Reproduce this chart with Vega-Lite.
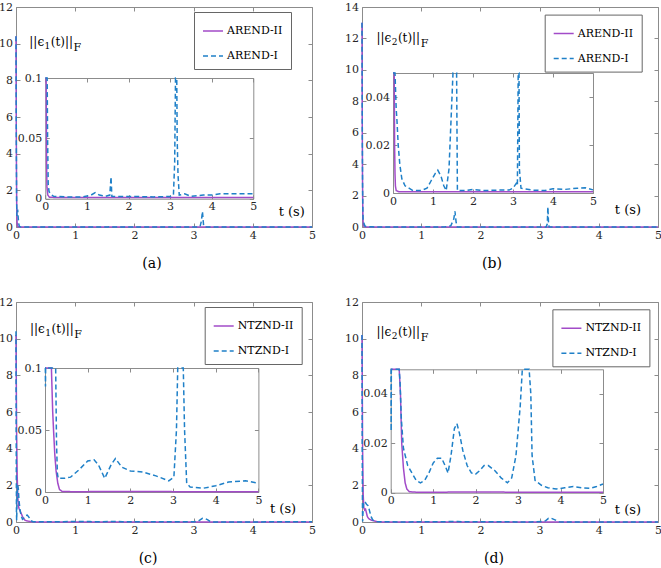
{
"$schema": "https://vega.github.io/schema/vega-lite/v6.json",
"background": "white",
"padding": {"left": -2, "top": 0, "right": 0, "bottom": 0},
"columns": 2,
"spacing": {"row": 75, "column": 50},
"bounds": "flush",
"resolve": {"scale": {"color": "independent", "strokeDash": "independent"}, "legend": {"color": "independent", "strokeDash": "independent"}},
"config": {
 "view": {"stroke": "#8c8c8c", "strokeWidth": 1},
 "font": "DejaVu Serif",
 "axis": {"domain": false, "grid": false, "tickColor": "#8c8c8c", "domainColor": "#8c8c8c", "tickSize": -4, "tickWidth": 1, "labelFont": "DejaVu Serif", "labelFontSize": 11, "labelColor": "#262626", "labelPadding": 6, "labelFlush": false, "labelOverlap": false},
 "axisY": {"labelPadding": 7.5},
 "legend": {"symbolType": "stroke", "symbolSize": 400, "symbolStrokeWidth": 1.5, "labelFont": "DejaVu Serif", "labelFontSize": 11, "labelColor": "#000", "strokeColor": "#666", "fillColor": "#fff", "padding": 8, "rowPadding": 9, "labelOffset": 3},
 "text": {"font": "DejaVu Serif"},
 "title": {"font": "DejaVu Serif", "fontSize": 14, "fontWeight": "normal", "color": "#000"}
},
"datasets": {
 "a": [
  {"s":"AREND-II","t":0,"v":10.4},{"s":"AREND-II","t":0.004,"v":6},{"s":"AREND-II","t":0.008,"v":3},{"s":"AREND-II","t":0.012,"v":1.2},{"s":"AREND-II","t":0.016,"v":0.45},{"s":"AREND-II","t":0.02,"v":0.18},{"s":"AREND-II","t":0.025,"v":0.07},{"s":"AREND-II","t":0.03,"v":0.03},{"s":"AREND-II","t":0.04,"v":0.01},{"s":"AREND-II","t":0.06,"v":0.003},{"s":"AREND-II","t":0.1,"v":0.0012},{"s":"AREND-II","t":0.3,"v":0.001},{"s":"AREND-II","t":1,"v":0.001},{"s":"AREND-II","t":2,"v":0.001},{"s":"AREND-II","t":3,"v":0.001},{"s":"AREND-II","t":4,"v":0.001},{"s":"AREND-II","t":5,"v":0.001},
  {"s":"AREND-I","t":0,"v":10.4},{"s":"AREND-I","t":0.005,"v":5},{"s":"AREND-I","t":0.01,"v":1.5},{"s":"AREND-I","t":0.015,"v":0.6},{"s":"AREND-I","t":0.02,"v":0.85},{"s":"AREND-I","t":0.028,"v":0.95},{"s":"AREND-I","t":0.035,"v":0.6},{"s":"AREND-I","t":0.045,"v":0.2},{"s":"AREND-I","t":0.055,"v":0.05},{"s":"AREND-I","t":0.07,"v":0.012},{"s":"AREND-I","t":0.09,"v":0.006},{"s":"AREND-I","t":0.12,"v":0.004},{"s":"AREND-I","t":0.2,"v":0.002},{"s":"AREND-I","t":0.5,"v":0.0015},{"s":"AREND-I","t":0.9,"v":0.0015},{"s":"AREND-I","t":1.1,"v":0.003},{"s":"AREND-I","t":1.2,"v":0.005},{"s":"AREND-I","t":1.3,"v":0.003},{"s":"AREND-I","t":1.45,"v":0.002},{"s":"AREND-I","t":1.55,"v":0.003},{"s":"AREND-I","t":1.58,"v":0.018},{"s":"AREND-I","t":1.6,"v":0.002},{"s":"AREND-I","t":1.8,"v":0.0018},{"s":"AREND-I","t":2.2,"v":0.0018},{"s":"AREND-I","t":2.6,"v":0.0015},{"s":"AREND-I","t":3.0,"v":0.0018},{"s":"AREND-I","t":3.08,"v":0.003},{"s":"AREND-I","t":3.11,"v":0.03},{"s":"AREND-I","t":3.13,"v":0.3},{"s":"AREND-I","t":3.15,"v":0.85},{"s":"AREND-I","t":3.16,"v":0.4},{"s":"AREND-I","t":3.17,"v":0.05},{"s":"AREND-I","t":3.19,"v":0.02},{"s":"AREND-I","t":3.22,"v":0.003},{"s":"AREND-I","t":3.35,"v":0.004},{"s":"AREND-I","t":3.5,"v":0.002},{"s":"AREND-I","t":3.8,"v":0.003},{"s":"AREND-I","t":4.0,"v":0.003},{"s":"AREND-I","t":4.2,"v":0.004},{"s":"AREND-I","t":4.5,"v":0.004},{"s":"AREND-I","t":4.8,"v":0.004},{"s":"AREND-I","t":5,"v":0.004}
 ],
 "b": [
  {"s":"AREND-II","t":0,"v":13},{"s":"AREND-II","t":0.004,"v":7},{"s":"AREND-II","t":0.008,"v":3.5},{"s":"AREND-II","t":0.012,"v":1.5},{"s":"AREND-II","t":0.016,"v":0.6},{"s":"AREND-II","t":0.02,"v":0.25},{"s":"AREND-II","t":0.025,"v":0.1},{"s":"AREND-II","t":0.03,"v":0.05},{"s":"AREND-II","t":0.04,"v":0.02},{"s":"AREND-II","t":0.05,"v":0.008},{"s":"AREND-II","t":0.06,"v":0.003},{"s":"AREND-II","t":0.08,"v":0.001},{"s":"AREND-II","t":0.15,"v":0.0005},{"s":"AREND-II","t":1,"v":0.0005},{"s":"AREND-II","t":2,"v":0.0005},{"s":"AREND-II","t":3,"v":0.0005},{"s":"AREND-II","t":4,"v":0.0005},{"s":"AREND-II","t":5,"v":0.0005},
  {"s":"AREND-I","t":0,"v":13},{"s":"AREND-I","t":0.005,"v":6},{"s":"AREND-I","t":0.01,"v":2.5},{"s":"AREND-I","t":0.015,"v":0.9},{"s":"AREND-I","t":0.02,"v":0.4},{"s":"AREND-I","t":0.03,"v":0.3},{"s":"AREND-I","t":0.04,"v":0.15},{"s":"AREND-I","t":0.05,"v":0.07},{"s":"AREND-I","t":0.06,"v":0.045},{"s":"AREND-I","t":0.08,"v":0.035},{"s":"AREND-I","t":0.1,"v":0.03},{"s":"AREND-I","t":0.13,"v":0.02},{"s":"AREND-I","t":0.17,"v":0.012},{"s":"AREND-I","t":0.22,"v":0.006},{"s":"AREND-I","t":0.3,"v":0.003},{"s":"AREND-I","t":0.4,"v":0.002},{"s":"AREND-I","t":0.5,"v":0.001},{"s":"AREND-I","t":0.7,"v":0.001},{"s":"AREND-I","t":0.85,"v":0.002},{"s":"AREND-I","t":0.95,"v":0.005},{"s":"AREND-I","t":1.05,"v":0.008},{"s":"AREND-I","t":1.12,"v":0.0095},{"s":"AREND-I","t":1.2,"v":0.007},{"s":"AREND-I","t":1.27,"v":0.003},{"s":"AREND-I","t":1.33,"v":0.001},{"s":"AREND-I","t":1.4,"v":0.01},{"s":"AREND-I","t":1.45,"v":0.03},{"s":"AREND-I","t":1.5,"v":0.08},{"s":"AREND-I","t":1.55,"v":0.5},{"s":"AREND-I","t":1.57,"v":1.0},{"s":"AREND-I","t":1.59,"v":0.3},{"s":"AREND-I","t":1.61,"v":0.001},{"s":"AREND-I","t":1.8,"v":0.001},{"s":"AREND-I","t":2.0,"v":0.0015},{"s":"AREND-I","t":2.3,"v":0.001},{"s":"AREND-I","t":2.6,"v":0.0012},{"s":"AREND-I","t":2.9,"v":0.0012},{"s":"AREND-I","t":3.0,"v":0.002},{"s":"AREND-I","t":3.08,"v":0.004},{"s":"AREND-I","t":3.11,"v":0.003},{"s":"AREND-I","t":3.13,"v":0.2},{"s":"AREND-I","t":3.14,"v":1.27},{"s":"AREND-I","t":3.15,"v":0.3},{"s":"AREND-I","t":3.16,"v":0.01},{"s":"AREND-I","t":3.2,"v":0.002},{"s":"AREND-I","t":3.5,"v":0.0012},{"s":"AREND-I","t":3.8,"v":0.001},{"s":"AREND-I","t":4.0,"v":0.0018},{"s":"AREND-I","t":4.3,"v":0.0015},{"s":"AREND-I","t":4.6,"v":0.002},{"s":"AREND-I","t":4.8,"v":0.0022},{"s":"AREND-I","t":5,"v":0.0013}
 ],
 "c": [
  {"s":"NTZND-II","t":0,"v":10.2},{"s":"NTZND-II","t":0.01,"v":5},{"s":"NTZND-II","t":0.02,"v":2.5},{"s":"NTZND-II","t":0.03,"v":1.4},{"s":"NTZND-II","t":0.04,"v":0.9},{"s":"NTZND-II","t":0.05,"v":0.75},{"s":"NTZND-II","t":0.07,"v":0.6},{"s":"NTZND-II","t":0.09,"v":0.45},{"s":"NTZND-II","t":0.11,"v":0.3},{"s":"NTZND-II","t":0.13,"v":0.18},{"s":"NTZND-II","t":0.15,"v":0.1},{"s":"NTZND-II","t":0.18,"v":0.065},{"s":"NTZND-II","t":0.2,"v":0.05},{"s":"NTZND-II","t":0.23,"v":0.03},{"s":"NTZND-II","t":0.26,"v":0.017},{"s":"NTZND-II","t":0.3,"v":0.007},{"s":"NTZND-II","t":0.34,"v":0.002},{"s":"NTZND-II","t":0.4,"v":0.0005},{"s":"NTZND-II","t":0.6,"v":0.0003},{"s":"NTZND-II","t":1,"v":0.0003},{"s":"NTZND-II","t":2,"v":0.0004},{"s":"NTZND-II","t":3,"v":0.0003},{"s":"NTZND-II","t":4,"v":0.0003},{"s":"NTZND-II","t":5,"v":0.0003},
  {"s":"NTZND-I","t":0,"v":10.4},{"s":"NTZND-I","t":0.004,"v":4},{"s":"NTZND-I","t":0.008,"v":0.5},{"s":"NTZND-I","t":0.011,"v":0.085},{"s":"NTZND-I","t":0.015,"v":0.6},{"s":"NTZND-I","t":0.02,"v":1.5},{"s":"NTZND-I","t":0.03,"v":2.0},{"s":"NTZND-I","t":0.04,"v":1.8},{"s":"NTZND-I","t":0.05,"v":1.2},{"s":"NTZND-I","t":0.07,"v":0.6},{"s":"NTZND-I","t":0.09,"v":0.3},{"s":"NTZND-I","t":0.11,"v":0.15},{"s":"NTZND-I","t":0.13,"v":0.2},{"s":"NTZND-I","t":0.16,"v":0.35},{"s":"NTZND-I","t":0.19,"v":0.38},{"s":"NTZND-I","t":0.22,"v":0.25},{"s":"NTZND-I","t":0.25,"v":0.12},{"s":"NTZND-I","t":0.27,"v":0.04},{"s":"NTZND-I","t":0.29,"v":0.015},{"s":"NTZND-I","t":0.31,"v":0.011},{"s":"NTZND-I","t":0.45,"v":0.011},{"s":"NTZND-I","t":0.6,"v":0.012},{"s":"NTZND-I","t":0.8,"v":0.018},{"s":"NTZND-I","t":1.0,"v":0.025},{"s":"NTZND-I","t":1.15,"v":0.026},{"s":"NTZND-I","t":1.25,"v":0.022},{"s":"NTZND-I","t":1.4,"v":0.011},{"s":"NTZND-I","t":1.55,"v":0.022},{"s":"NTZND-I","t":1.65,"v":0.027},{"s":"NTZND-I","t":1.8,"v":0.02},{"s":"NTZND-I","t":2.0,"v":0.017},{"s":"NTZND-I","t":2.3,"v":0.016},{"s":"NTZND-I","t":2.6,"v":0.013},{"s":"NTZND-I","t":2.9,"v":0.009},{"s":"NTZND-I","t":3.02,"v":0.012},{"s":"NTZND-I","t":3.08,"v":0.05},{"s":"NTZND-I","t":3.11,"v":0.12},{"s":"NTZND-I","t":3.15,"v":0.2},{"s":"NTZND-I","t":3.2,"v":0.18},{"s":"NTZND-I","t":3.24,"v":0.12},{"s":"NTZND-I","t":3.27,"v":0.05},{"s":"NTZND-I","t":3.32,"v":0.007},{"s":"NTZND-I","t":3.4,"v":0.004},{"s":"NTZND-I","t":3.7,"v":0.003},{"s":"NTZND-I","t":4.0,"v":0.005},{"s":"NTZND-I","t":4.3,"v":0.008},{"s":"NTZND-I","t":4.7,"v":0.009},{"s":"NTZND-I","t":5,"v":0.007}
 ],
 "d": [
  {"s":"NTZND-II","t":0,"v":10.2},{"s":"NTZND-II","t":0.01,"v":4},{"s":"NTZND-II","t":0.02,"v":1.5},{"s":"NTZND-II","t":0.03,"v":0.8},{"s":"NTZND-II","t":0.045,"v":0.65},{"s":"NTZND-II","t":0.06,"v":0.7},{"s":"NTZND-II","t":0.075,"v":0.5},{"s":"NTZND-II","t":0.09,"v":0.3},{"s":"NTZND-II","t":0.11,"v":0.2},{"s":"NTZND-II","t":0.13,"v":0.15},{"s":"NTZND-II","t":0.16,"v":0.1},{"s":"NTZND-II","t":0.2,"v":0.07},{"s":"NTZND-II","t":0.23,"v":0.04},{"s":"NTZND-II","t":0.26,"v":0.02},{"s":"NTZND-II","t":0.3,"v":0.01},{"s":"NTZND-II","t":0.34,"v":0.004},{"s":"NTZND-II","t":0.38,"v":0.0015},{"s":"NTZND-II","t":0.44,"v":0.0004},{"s":"NTZND-II","t":0.6,"v":0.0002},{"s":"NTZND-II","t":1,"v":0.0002},{"s":"NTZND-II","t":2,"v":0.0003},{"s":"NTZND-II","t":3,"v":0.0002},{"s":"NTZND-II","t":4,"v":0.0002},{"s":"NTZND-II","t":5,"v":0.0002},
  {"s":"NTZND-I","t":0,"v":10.2},{"s":"NTZND-I","t":0.004,"v":4},{"s":"NTZND-I","t":0.008,"v":0.8},{"s":"NTZND-I","t":0.011,"v":0.025},{"s":"NTZND-I","t":0.015,"v":0.4},{"s":"NTZND-I","t":0.025,"v":1.0},{"s":"NTZND-I","t":0.04,"v":1.13},{"s":"NTZND-I","t":0.06,"v":1.05},{"s":"NTZND-I","t":0.08,"v":0.95},{"s":"NTZND-I","t":0.1,"v":0.9},{"s":"NTZND-I","t":0.12,"v":0.7},{"s":"NTZND-I","t":0.14,"v":0.45},{"s":"NTZND-I","t":0.16,"v":0.25},{"s":"NTZND-I","t":0.18,"v":0.12},{"s":"NTZND-I","t":0.2,"v":0.07},{"s":"NTZND-I","t":0.22,"v":0.045},{"s":"NTZND-I","t":0.25,"v":0.03},{"s":"NTZND-I","t":0.3,"v":0.018},{"s":"NTZND-I","t":0.4,"v":0.011},{"s":"NTZND-I","t":0.5,"v":0.008},{"s":"NTZND-I","t":0.6,"v":0.005},{"s":"NTZND-I","t":0.7,"v":0.004},{"s":"NTZND-I","t":0.8,"v":0.005},{"s":"NTZND-I","t":0.9,"v":0.008},{"s":"NTZND-I","t":1.0,"v":0.012},{"s":"NTZND-I","t":1.1,"v":0.014},{"s":"NTZND-I","t":1.2,"v":0.014},{"s":"NTZND-I","t":1.28,"v":0.011},{"s":"NTZND-I","t":1.35,"v":0.008},{"s":"NTZND-I","t":1.42,"v":0.015},{"s":"NTZND-I","t":1.5,"v":0.026},{"s":"NTZND-I","t":1.56,"v":0.028},{"s":"NTZND-I","t":1.62,"v":0.024},{"s":"NTZND-I","t":1.7,"v":0.017},{"s":"NTZND-I","t":1.8,"v":0.011},{"s":"NTZND-I","t":1.9,"v":0.008},{"s":"NTZND-I","t":2.0,"v":0.0075},{"s":"NTZND-I","t":2.1,"v":0.009},{"s":"NTZND-I","t":2.2,"v":0.011},{"s":"NTZND-I","t":2.3,"v":0.011},{"s":"NTZND-I","t":2.45,"v":0.009},{"s":"NTZND-I","t":2.6,"v":0.006},{"s":"NTZND-I","t":2.75,"v":0.004},{"s":"NTZND-I","t":2.85,"v":0.006},{"s":"NTZND-I","t":2.95,"v":0.015},{"s":"NTZND-I","t":3.05,"v":0.035},{"s":"NTZND-I","t":3.1,"v":0.06},{"s":"NTZND-I","t":3.15,"v":0.2},{"s":"NTZND-I","t":3.2,"v":0.2},{"s":"NTZND-I","t":3.26,"v":0.12},{"s":"NTZND-I","t":3.3,"v":0.04},{"s":"NTZND-I","t":3.33,"v":0.015},{"s":"NTZND-I","t":3.4,"v":0.005},{"s":"NTZND-I","t":3.55,"v":0.003},{"s":"NTZND-I","t":3.7,"v":0.002},{"s":"NTZND-I","t":3.9,"v":0.0015},{"s":"NTZND-I","t":4.1,"v":0.002},{"s":"NTZND-I","t":4.3,"v":0.0025},{"s":"NTZND-I","t":4.5,"v":0.002},{"s":"NTZND-I","t":4.7,"v":0.0018},{"s":"NTZND-I","t":4.85,"v":0.0025},{"s":"NTZND-I","t":5,"v":0.0035}
 ]
},
"concat": [
 {
  "width": 296, "height": 220,
  "title": {"text": "(a)", "orient": "bottom", "frame": "group", "anchor": "middle", "dx": -12, "offset": 17},
  "layer": [
   {
    "layer": [
     {
      "data": {"name": "a"},
      "mark": {"type": "line", "strokeWidth": 1.5},
      "encoding": {
       "x": {"field": "t", "type": "quantitative", "scale": {"domain": [0, 5], "nice": false, "zero": false}, "axis": {"orient": "bottom", "values": [0,1,2,3,4,5], "title": null}},
       "y": {"field": "v", "type": "quantitative", "scale": {"domain": [0, 12], "nice": false}, "axis": {"orient": "left", "values": [0,2,4,6,8,10,12], "title": null}},
       "color": {"field": "s", "type": "nominal", "scale": {"domain": ["AREND-II", "AREND-I"], "range": ["#A24BC8", "#1F80C8"]}, "legend": {"orient": "none", "legendX": 178, "legendY": 5, "title": null}},
       "strokeDash": {"field": "s", "type": "nominal", "scale": {"domain": ["AREND-II", "AREND-I"], "range": [[1, 0], [5, 3]]}, "legend": {"orient": "none", "legendX": 178, "legendY": 5, "title": null}}
      }
     },
     {
      "data": {"values": [{"t": 0, "v": 0}]},
      "mark": {"type": "point", "opacity": 0},
      "encoding": {
       "x": {"field": "t", "type": "quantitative", "axis": {"orient": "top", "values": [0,1,2,3,4,5], "labels": false, "title": null}},
       "y": {"field": "v", "type": "quantitative", "axis": {"orient": "right", "values": [0,2,4,6,8,10,12], "labels": false, "title": null}}
      }
     },
     {
      "data": {"values": [{"t": 0.225, "v": 9.87, "txt": "||ϵ"}, {"t": 0.588, "v": 9.87, "txt": "(t)||"}]},
      "mark": {"type": "text", "align": "left", "baseline": "alphabetic", "fontSize": 12, "color": "#000"},
      "encoding": {"x": {"field": "t", "type": "quantitative", "axis": null}, "y": {"field": "v", "type": "quantitative", "axis": null}, "text": {"field": "txt"}}
     },
     {
      "data": {"values": [{"t": 4.437, "v": 0.6, "txt": "t (s)"}]},
      "mark": {"type": "text", "align": "left", "baseline": "alphabetic", "fontSize": 13, "color": "#000"},
      "encoding": {"x": {"field": "t", "type": "quantitative", "axis": null}, "y": {"field": "v", "type": "quantitative", "axis": null}, "text": {"field": "txt"}}
     },
     {
      "data": {"values": [{"t": 0.483, "v": 9.87, "txt": "1"}]},
      "mark": {"type": "text", "align": "left", "baseline": "alphabetic", "fontSize": 9, "dy": 3, "color": "#000"},
      "encoding": {"x": {"field": "t", "type": "quantitative", "axis": null}, "y": {"field": "v", "type": "quantitative", "axis": null}, "text": {"field": "txt"}}
     },
     {
      "data": {"values": [{"t": 0.973, "v": 9.87, "txt": "F"}]},
      "mark": {"type": "text", "align": "left", "baseline": "alphabetic", "fontSize": 11, "dy": 5, "color": "#000"},
      "encoding": {"x": {"field": "t", "type": "quantitative", "axis": null}, "y": {"field": "v", "type": "quantitative", "axis": null}, "text": {"field": "txt"}}
     }
    ],
    "resolve": {"axis": {"x": "independent", "y": "independent"}}
   },
   {
    "layer": [
     {
      "data": {"name": "a"},
      "mark": {"type": "line", "strokeWidth": 1.5},
      "encoding": {
       "x": {"field": "t", "type": "quantitative", "scale": {"domain": [0, 5], "range": [29.3, 237.3], "nice": false, "zero": false, "clamp": true}, "axis": {"orient": "bottom", "offset": -28.3, "values": [0,1,2,3,4,5], "domain": true, "title": null}},
       "y": {"field": "v", "type": "quantitative", "scale": {"domain": [0, 0.1], "range": [191.7, 71], "nice": false, "clamp": true}, "axis": {"orient": "left", "offset": -29.3, "values": [0, 0.05, 0.1], "format": "~g", "domain": true, "title": null}},
       "color": {"field": "s", "type": "nominal", "legend": null},
       "strokeDash": {"field": "s", "type": "nominal", "legend": null}
      }
     },
     {
      "data": {"values": [{"t": 0, "v": 0}]},
      "mark": {"type": "point", "opacity": 0},
      "encoding": {
       "x": {"field": "t", "type": "quantitative", "axis": {"orient": "top", "offset": -71, "values": [0,1,2,3,4,5], "labels": false, "domain": true, "title": null}},
       "y": {"field": "v", "type": "quantitative", "axis": {"orient": "right", "offset": -58.7, "values": [0, 0.05, 0.1], "labels": false, "domain": true, "title": null}}
      }
     }
    ],
    "resolve": {"axis": {"x": "independent", "y": "independent"}}
   }
  ],
  "resolve": {"scale": {"x": "independent", "y": "independent"}}
 },
 {
  "width": 296, "height": 220,
  "title": {"text": "(b)", "orient": "bottom", "frame": "group", "anchor": "middle", "dx": -18, "offset": 17},
  "layer": [
   {
    "layer": [
     {
      "data": {"name": "b"},
      "mark": {"type": "line", "strokeWidth": 1.5},
      "encoding": {
       "x": {"field": "t", "type": "quantitative", "scale": {"domain": [0, 5], "nice": false, "zero": false}, "axis": {"orient": "bottom", "values": [0,1,2,3,4,5], "title": null}},
       "y": {"field": "v", "type": "quantitative", "scale": {"domain": [0, 14], "nice": false}, "axis": {"orient": "left", "values": [0,2,4,6,8,10,12,14], "title": null}},
       "color": {"field": "s", "type": "nominal", "scale": {"domain": ["AREND-II", "AREND-I"], "range": ["#A24BC8", "#1F80C8"]}, "legend": {"orient": "none", "legendX": 182.7, "legendY": 7.6, "title": null}},
       "strokeDash": {"field": "s", "type": "nominal", "scale": {"domain": ["AREND-II", "AREND-I"], "range": [[1, 0], [5, 3]]}, "legend": {"orient": "none", "legendX": 182.7, "legendY": 7.6, "title": null}}
      }
     },
     {
      "data": {"values": [{"t": 0, "v": 0}]},
      "mark": {"type": "point", "opacity": 0},
      "encoding": {
       "x": {"field": "t", "type": "quantitative", "axis": {"orient": "top", "values": [0,1,2,3,4,5], "labels": false, "title": null}},
       "y": {"field": "v", "type": "quantitative", "axis": {"orient": "right", "values": [0,2,4,6,8,10,12,14], "labels": false, "title": null}}
      }
     },
     {
      "data": {"values": [{"t": 0.243, "v": 11.75, "txt": "||ϵ"}, {"t": 0.606, "v": 11.75, "txt": "(t)||"}]},
      "mark": {"type": "text", "align": "left", "baseline": "alphabetic", "fontSize": 12, "color": "#000"},
      "encoding": {"x": {"field": "t", "type": "quantitative", "axis": null}, "y": {"field": "v", "type": "quantitative", "axis": null}, "text": {"field": "txt"}}
     },
     {
      "data": {"values": [{"t": 4.27, "v": 0.84, "txt": "t (s)"}]},
      "mark": {"type": "text", "align": "left", "baseline": "alphabetic", "fontSize": 13, "color": "#000"},
      "encoding": {"x": {"field": "t", "type": "quantitative", "axis": null}, "y": {"field": "v", "type": "quantitative", "axis": null}, "text": {"field": "txt"}}
     },
     {
      "data": {"values": [{"t": 0.501, "v": 11.75, "txt": "2"}]},
      "mark": {"type": "text", "align": "left", "baseline": "alphabetic", "fontSize": 9, "dy": 3, "color": "#000"},
      "encoding": {"x": {"field": "t", "type": "quantitative", "axis": null}, "y": {"field": "v", "type": "quantitative", "axis": null}, "text": {"field": "txt"}}
     },
     {
      "data": {"values": [{"t": 0.991, "v": 11.75, "txt": "F"}]},
      "mark": {"type": "text", "align": "left", "baseline": "alphabetic", "fontSize": 11, "dy": 5, "color": "#000"},
      "encoding": {"x": {"field": "t", "type": "quantitative", "axis": null}, "y": {"field": "v", "type": "quantitative", "axis": null}, "text": {"field": "txt"}}
     }
    ],
    "resolve": {"axis": {"x": "independent", "y": "independent"}}
   },
   {
    "layer": [
     {
      "data": {"name": "b"},
      "mark": {"type": "line", "strokeWidth": 1.5},
      "encoding": {
       "x": {"field": "t", "type": "quantitative", "scale": {"domain": [0, 5], "range": [31, 231], "nice": false, "zero": false, "clamp": true}, "axis": {"orient": "bottom", "offset": -34, "values": [0,1,2,3,4,5], "domain": true, "title": null}},
       "y": {"field": "v", "type": "quantitative", "scale": {"domain": [0, 0.05], "range": [186, 66], "nice": false, "clamp": true}, "axis": {"orient": "left", "offset": -31, "values": [0, 0.02, 0.04], "format": "~g", "domain": true, "title": null}},
       "color": {"field": "s", "type": "nominal", "legend": null},
       "strokeDash": {"field": "s", "type": "nominal", "legend": null}
      }
     },
     {
      "data": {"values": [{"t": 0, "v": 0}]},
      "mark": {"type": "point", "opacity": 0},
      "encoding": {
       "x": {"field": "t", "type": "quantitative", "axis": {"orient": "top", "offset": -66, "values": [0,1,2,3,4,5], "labels": false, "domain": true, "title": null}},
       "y": {"field": "v", "type": "quantitative", "axis": {"orient": "right", "offset": -65, "values": [0, 0.02, 0.04], "labels": false, "domain": true, "title": null}}
      }
     }
    ],
    "resolve": {"axis": {"x": "independent", "y": "independent"}}
   }
  ],
  "resolve": {"scale": {"x": "independent", "y": "independent"}}
 },
 {
  "width": 296, "height": 220,
  "title": {"text": "(c)", "orient": "bottom", "frame": "group", "anchor": "middle", "dx": -16, "offset": 17},
  "layer": [
   {
    "layer": [
     {
      "data": {"name": "c"},
      "mark": {"type": "line", "strokeWidth": 1.5},
      "encoding": {
       "x": {"field": "t", "type": "quantitative", "scale": {"domain": [0, 5], "nice": false, "zero": false}, "axis": {"orient": "bottom", "values": [0,1,2,3,4,5], "title": null}},
       "y": {"field": "v", "type": "quantitative", "scale": {"domain": [0, 12], "nice": false}, "axis": {"orient": "left", "values": [0,2,4,6,8,10,12], "title": null}},
       "color": {"field": "s", "type": "nominal", "scale": {"domain": ["NTZND-II", "NTZND-I"], "range": ["#A24BC8", "#1F80C8"]}, "legend": {"orient": "none", "legendX": 188.7, "legendY": 5, "title": null}},
       "strokeDash": {"field": "s", "type": "nominal", "scale": {"domain": ["NTZND-II", "NTZND-I"], "range": [[1, 0], [5, 3]]}, "legend": {"orient": "none", "legendX": 188.7, "legendY": 5, "title": null}}
      }
     },
     {
      "data": {"values": [{"t": 0, "v": 0}]},
      "mark": {"type": "point", "opacity": 0},
      "encoding": {
       "x": {"field": "t", "type": "quantitative", "axis": {"orient": "top", "values": [0,1,2,3,4,5], "labels": false, "title": null}},
       "y": {"field": "v", "type": "quantitative", "axis": {"orient": "right", "values": [0,2,4,6,8,10,12], "labels": false, "title": null}}
      }
     },
     {
      "data": {"values": [{"t": 0.236, "v": 10.32, "txt": "||ϵ"}, {"t": 0.599, "v": 10.32, "txt": "(t)||"}]},
      "mark": {"type": "text", "align": "left", "baseline": "alphabetic", "fontSize": 12, "color": "#000"},
      "encoding": {"x": {"field": "t", "type": "quantitative", "axis": null}, "y": {"field": "v", "type": "quantitative", "axis": null}, "text": {"field": "txt"}}
     },
     {
      "data": {"values": [{"t": 4.29, "v": 0.5, "txt": "t (s)"}]},
      "mark": {"type": "text", "align": "left", "baseline": "alphabetic", "fontSize": 13, "color": "#000"},
      "encoding": {"x": {"field": "t", "type": "quantitative", "axis": null}, "y": {"field": "v", "type": "quantitative", "axis": null}, "text": {"field": "txt"}}
     },
     {
      "data": {"values": [{"t": 0.494, "v": 10.32, "txt": "1"}]},
      "mark": {"type": "text", "align": "left", "baseline": "alphabetic", "fontSize": 9, "dy": 3, "color": "#000"},
      "encoding": {"x": {"field": "t", "type": "quantitative", "axis": null}, "y": {"field": "v", "type": "quantitative", "axis": null}, "text": {"field": "txt"}}
     },
     {
      "data": {"values": [{"t": 0.984, "v": 10.32, "txt": "F"}]},
      "mark": {"type": "text", "align": "left", "baseline": "alphabetic", "fontSize": 11, "dy": 5, "color": "#000"},
      "encoding": {"x": {"field": "t", "type": "quantitative", "axis": null}, "y": {"field": "v", "type": "quantitative", "axis": null}, "text": {"field": "txt"}}
     }
    ],
    "resolve": {"axis": {"x": "independent", "y": "independent"}}
   },
   {
    "layer": [
     {
      "data": {"name": "c"},
      "mark": {"type": "line", "strokeWidth": 1.5},
      "encoding": {
       "x": {"field": "t", "type": "quantitative", "scale": {"domain": [0, 5], "range": [29, 242.4], "nice": false, "zero": false, "clamp": true}, "axis": {"orient": "bottom", "offset": -30, "values": [0,1,2,3,4,5], "domain": true, "title": null}},
       "y": {"field": "v", "type": "quantitative", "scale": {"domain": [0, 0.1], "range": [190, 66], "nice": false, "clamp": true}, "axis": {"orient": "left", "offset": -29, "values": [0, 0.05, 0.1], "format": "~g", "domain": true, "title": null}},
       "color": {"field": "s", "type": "nominal", "legend": null},
       "strokeDash": {"field": "s", "type": "nominal", "legend": null}
      }
     },
     {
      "data": {"values": [{"t": 0, "v": 0}]},
      "mark": {"type": "point", "opacity": 0},
      "encoding": {
       "x": {"field": "t", "type": "quantitative", "axis": {"orient": "top", "offset": -66, "values": [0,1,2,3,4,5], "labels": false, "domain": true, "title": null}},
       "y": {"field": "v", "type": "quantitative", "axis": {"orient": "right", "offset": -53.6, "values": [0, 0.05, 0.1], "labels": false, "domain": true, "title": null}}
      }
     }
    ],
    "resolve": {"axis": {"x": "independent", "y": "independent"}}
   }
  ],
  "resolve": {"scale": {"x": "independent", "y": "independent"}}
 },
 {
  "width": 296, "height": 220,
  "title": {"text": "(d)", "orient": "bottom", "frame": "group", "anchor": "middle", "dx": -16, "offset": 17},
  "layer": [
   {
    "layer": [
     {
      "data": {"name": "d"},
      "mark": {"type": "line", "strokeWidth": 1.5},
      "encoding": {
       "x": {"field": "t", "type": "quantitative", "scale": {"domain": [0, 5], "nice": false, "zero": false}, "axis": {"orient": "bottom", "values": [0,1,2,3,4,5], "title": null}},
       "y": {"field": "v", "type": "quantitative", "scale": {"domain": [0, 12], "nice": false}, "axis": {"orient": "left", "values": [0,2,4,6,8,10,12], "title": null}},
       "color": {"field": "s", "type": "nominal", "scale": {"domain": ["NTZND-II", "NTZND-I"], "range": ["#A24BC8", "#1F80C8"]}, "legend": {"orient": "none", "legendX": 190.4, "legendY": 7.3, "title": null}},
       "strokeDash": {"field": "s", "type": "nominal", "scale": {"domain": ["NTZND-II", "NTZND-I"], "range": [[1, 0], [5, 3]]}, "legend": {"orient": "none", "legendX": 190.4, "legendY": 7.3, "title": null}}
      }
     },
     {
      "data": {"values": [{"t": 0, "v": 0}]},
      "mark": {"type": "point", "opacity": 0},
      "encoding": {
       "x": {"field": "t", "type": "quantitative", "axis": {"orient": "top", "values": [0,1,2,3,4,5], "labels": false, "title": null}},
       "y": {"field": "v", "type": "quantitative", "axis": {"orient": "right", "values": [0,2,4,6,8,10,12], "labels": false, "title": null}}
      }
     },
     {
      "data": {"values": [{"t": 0.243, "v": 10.15, "txt": "||ϵ"}, {"t": 0.606, "v": 10.15, "txt": "(t)||"}]},
      "mark": {"type": "text", "align": "left", "baseline": "alphabetic", "fontSize": 12, "color": "#000"},
      "encoding": {"x": {"field": "t", "type": "quantitative", "axis": null}, "y": {"field": "v", "type": "quantitative", "axis": null}, "text": {"field": "txt"}}
     },
     {
      "data": {"values": [{"t": 4.27, "v": 0.46, "txt": "t (s)"}]},
      "mark": {"type": "text", "align": "left", "baseline": "alphabetic", "fontSize": 13, "color": "#000"},
      "encoding": {"x": {"field": "t", "type": "quantitative", "axis": null}, "y": {"field": "v", "type": "quantitative", "axis": null}, "text": {"field": "txt"}}
     },
     {
      "data": {"values": [{"t": 0.501, "v": 10.15, "txt": "2"}]},
      "mark": {"type": "text", "align": "left", "baseline": "alphabetic", "fontSize": 9, "dy": 3, "color": "#000"},
      "encoding": {"x": {"field": "t", "type": "quantitative", "axis": null}, "y": {"field": "v", "type": "quantitative", "axis": null}, "text": {"field": "txt"}}
     },
     {
      "data": {"values": [{"t": 0.991, "v": 10.15, "txt": "F"}]},
      "mark": {"type": "text", "align": "left", "baseline": "alphabetic", "fontSize": 11, "dy": 5, "color": "#000"},
      "encoding": {"x": {"field": "t", "type": "quantitative", "axis": null}, "y": {"field": "v", "type": "quantitative", "axis": null}, "text": {"field": "txt"}}
     }
    ],
    "resolve": {"axis": {"x": "independent", "y": "independent"}}
   },
   {
    "layer": [
     {
      "data": {"name": "d"},
      "mark": {"type": "line", "strokeWidth": 1.5},
      "encoding": {
       "x": {"field": "t", "type": "quantitative", "scale": {"domain": [0, 5], "range": [28.7, 241], "nice": false, "zero": false, "clamp": true}, "axis": {"orient": "bottom", "offset": -29.3, "values": [0,1,2,3,4,5], "domain": true, "title": null}},
       "y": {"field": "v", "type": "quantitative", "scale": {"domain": [0, 0.05], "range": [190.7, 67.3], "nice": false, "clamp": true}, "axis": {"orient": "left", "offset": -28.7, "values": [0, 0.02, 0.04], "format": "~g", "domain": true, "title": null}},
       "color": {"field": "s", "type": "nominal", "legend": null},
       "strokeDash": {"field": "s", "type": "nominal", "legend": null}
      }
     },
     {
      "data": {"values": [{"t": 0, "v": 0}]},
      "mark": {"type": "point", "opacity": 0},
      "encoding": {
       "x": {"field": "t", "type": "quantitative", "axis": {"orient": "top", "offset": -67.3, "values": [0,1,2,3,4,5], "labels": false, "domain": true, "title": null}},
       "y": {"field": "v", "type": "quantitative", "axis": {"orient": "right", "offset": -55, "values": [0, 0.02, 0.04], "labels": false, "domain": true, "title": null}}
      }
     }
    ],
    "resolve": {"axis": {"x": "independent", "y": "independent"}}
   }
  ],
  "resolve": {"scale": {"x": "independent", "y": "independent"}}
 }
]
}
